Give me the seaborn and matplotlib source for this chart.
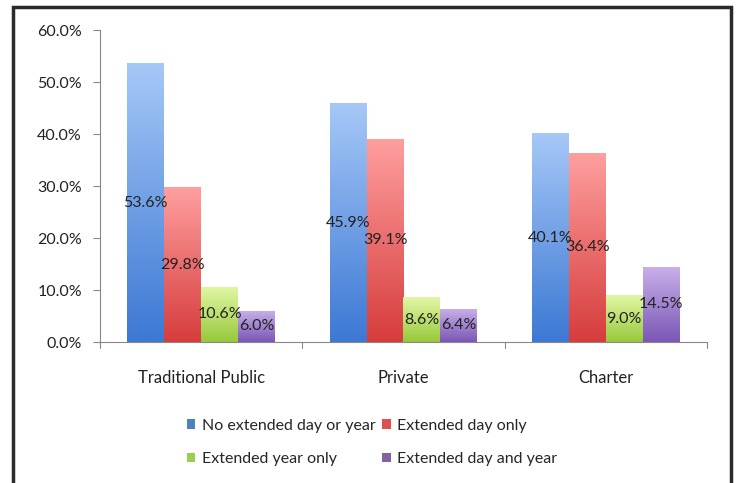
import numpy as np
import pandas as pd
import matplotlib
matplotlib.use("Agg")
import matplotlib.pyplot as plt
import seaborn as sns
from matplotlib.patches import Patch, Rectangle
from matplotlib.colors import LinearSegmentedColormap
from matplotlib.ticker import FuncFormatter

sns.set_style("white")
plt.rcParams['font.family'] = ['Lato', 'DejaVu Sans']

categories = ["Traditional Public", "Private", "Charter"]
series = ["No extended day or year", "Extended day only", "Extended year only", "Extended day and year"]
no_extended = [53.6, 45.9, 40.1]
day_only = [29.8, 39.1, 36.4]
year_only = [10.6, 8.6, 9.0]
day_and_year = [6.0, 6.4, 14.5]

top_colors = ["#a6c8f7", "#ff9f9f", "#e2f7a6", "#c9b1ea"]
bot_colors = ["#3c78d4", "#d63c3c", "#98c83c", "#7a57b5"]
mid_colors = ["#4f81bd", "#e05050", "#9bcf50", "#8064a2"]

rows = []
for s, vals in zip(series, [no_extended, day_only, year_only, day_and_year]):
    for c, v in zip(categories, vals):
        rows.append({"School": c, "Type": s, "Value": v})
df = pd.DataFrame(rows)

fig = plt.figure(figsize=(7.38, 4.83), dpi=100)
ax = fig.add_axes([100/738, (483-342)/483, (707-100)/738, 312/483])
sns.barplot(data=df, x="School", y="Value", hue="Type", order=categories,
            hue_order=series, palette=mid_colors, width=0.73, ax=ax, legend=False,
            saturation=1)

ax.set_ylim(0, 60)
ax.set_xlim(-0.5, 2.5)
ax.set_xlabel("")
ax.set_ylabel("")
ax.yaxis.set_major_formatter(FuncFormatter(lambda v, p: f"{v:.1f}%"))
ax.set_yticks(np.arange(0, 61, 10))
ax.tick_params(axis="y", length=5, direction="out", left=True, colors="#222222", labelsize=11.5, pad=8, color="#888888")
ax.tick_params(axis="x", length=0, labelsize=12, pad=20, colors="#222222")
for sp in ["top", "right"]:
    ax.spines[sp].set_visible(False)
ax.spines["left"].set_color("#888888")
ax.spines["bottom"].set_color("#888888")
# category separator ticks
for xx in [-0.5, 0.5, 1.5, 2.5]:
    ax.plot([xx, xx], [0, -1.2], color="#888888", lw=0.8, clip_on=False)

grad = np.linspace(0, 1, 256).reshape(-1, 1)
for i, container in enumerate(ax.containers):
    cmap = LinearSegmentedColormap.from_list(f"g{i}", [bot_colors[i], top_colors[i]])
    for bar in container:
        x0 = bar.get_x(); w = bar.get_width(); h = bar.get_height()
        bar.set_facecolor("none")
        bar.set_edgecolor("none")
        im = ax.imshow(grad, cmap=cmap, aspect="auto", origin="lower",
                       extent=[x0, x0 + w, 0, h], zorder=2)
        im.set_clip_path(bar)
        ax.text(x0 + w/2, h/2, f"{h:.1f}%", ha="center", va="center",
                fontsize=11.5, color="#222222", zorder=5)
ax.set_xlim(-0.5, 2.5)
ax.set_ylim(0, 60)

handles = [Patch(facecolor=mid_colors[i], edgecolor="none") for i in range(4)]
order = [0, 2, 1, 3]
fig.legend([handles[i] for i in order], [series[i] for i in order], ncol=2,
           loc="center", bbox_to_anchor=(372/738, 1 - 442.5/483), frameon=False,
           fontsize=11.5, handlelength=0.55, handleheight=0.55, handletextpad=0.4,
           labelspacing=1.2, columnspacing=0.4)

fig.patches.append(Rectangle((13/738, -0.05), (731-13)/738, 1.05 - 7/483,
                             transform=fig.transFigure, fill=False,
                             edgecolor="#2a2a2a", linewidth=2.5))

fig.savefig("out.png", dpi=100)
